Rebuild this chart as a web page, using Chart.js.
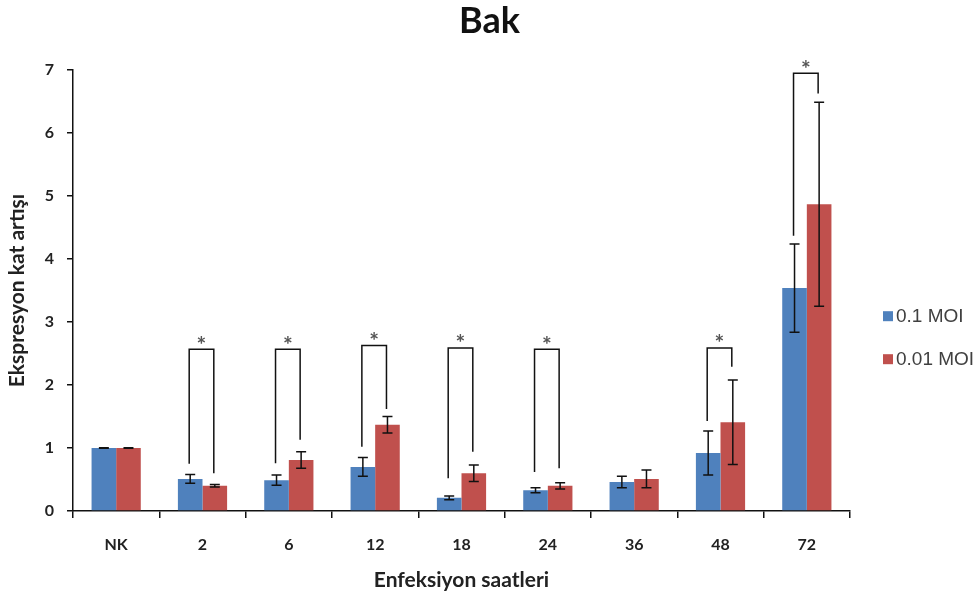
<!DOCTYPE html>
<html>
<head>
<meta charset="utf-8">
<script src="https://cdn.jsdelivr.net/npm/chart.js@4.4.1/dist/chart.umd.min.js"></script>
<style>
  html, body { margin: 0; padding: 0; background: #fff; }
  #wrap { width: 979px; height: 602px; }
</style>
</head>
<body>
<div id="wrap"><canvas id="bak-chart"></canvas></div>
<script>
const saatler = ['NK', '2', '6', '12', '18', '24', '36', '48', '72'];
const moi01 = [1.00, 0.51, 0.49, 0.70, 0.21, 0.33, 0.46, 0.92, 3.54];
const moi01Err = [0.005, 0.07, 0.08, 0.15, 0.03, 0.04, 0.09, 0.35, 0.70];
const moi001 = [1.00, 0.40, 0.81, 1.37, 0.60, 0.40, 0.51, 1.41, 4.87];
const moi001Err = [0.005, 0.02, 0.13, 0.13, 0.13, 0.05, 0.14, 0.67, 1.62];

// anlamlılık parantezleri: kategori, üst çizgi, sol ve sağ bacakların alt ucu
const sigIndex = [1, 2, 3, 4, 5, 7, 8];
const sigTop = [2.57, 2.57, 2.63, 2.59, 2.57, 2.59, 6.95];
const sigLeft = [0.75, 0.76, 1.02, 0.52, 0.62, 1.43, 4.37];
const sigRight = [0.60, 1.13, 1.62, 0.94, 0.68, 2.29, 6.63];

const FONT = 'Lato, "Open Sans", sans-serif';

const errorBars = {
  id: 'errorBars',
  afterDatasetsDraw(chart) {
    const ctx = chart.ctx;
    const y = chart.scales.y;
    const errs = [moi01Err, moi001Err];
    ctx.save();
    ctx.strokeStyle = '#111';
    ctx.lineWidth = 1.5;
    chart.data.datasets.forEach((ds, i) => {
      chart.getDatasetMeta(i).data.forEach((bar, j) => {
        const top = y.getPixelForValue(ds.data[j] + errs[i][j]);
        const bot = y.getPixelForValue(ds.data[j] - errs[i][j]);
        const x = bar.x, cap = 5;
        ctx.beginPath();
        ctx.moveTo(x, top); ctx.lineTo(x, bot);
        ctx.moveTo(x - cap, top); ctx.lineTo(x + cap, top);
        ctx.moveTo(x - cap, bot); ctx.lineTo(x + cap, bot);
        ctx.stroke();
      });
    });
    ctx.restore();
  }
};

const brackets = {
  id: 'brackets',
  afterDatasetsDraw(chart) {
    const ctx = chart.ctx;
    const y = chart.scales.y;
    const m0 = chart.getDatasetMeta(0).data;
    const m1 = chart.getDatasetMeta(1).data;
    ctx.save();
    ctx.strokeStyle = '#111';
    ctx.lineWidth = 1.5;
    sigIndex.forEach((k, n) => {
      const xl = m0[k].x - 1, xr = m1[k].x - 1;
      const yt = y.getPixelForValue(sigTop[n]);
      ctx.beginPath();
      ctx.moveTo(xl, y.getPixelForValue(sigLeft[n]));
      ctx.lineTo(xl, yt);
      ctx.lineTo(xr, yt);
      ctx.lineTo(xr, y.getPixelForValue(sigRight[n]));
      ctx.stroke();
      ctx.fillStyle = '#555';
      ctx.font = 'bold 23px ' + FONT;
      ctx.textAlign = 'center';
      ctx.textBaseline = 'middle';
      ctx.fillText('*', (xl + xr) / 2, yt - 4);
    });
    ctx.restore();
  }
};

const sideLegend = {
  id: 'sideLegend',
  afterDraw(chart) {
    const ctx = chart.ctx;
    const area = chart.chartArea;
    ctx.save();
    ctx.font = '19px "Liberation Sans", Arial, sans-serif';
    ctx.textBaseline = 'middle';
    ctx.textAlign = 'left';
    chart.data.datasets.forEach((ds, i) => {
      const cy = area.top + 246 + i * 43;
      ctx.fillStyle = ds.backgroundColor;
      ctx.fillRect(area.right + 33, cy - 5, 10, 10);
      ctx.fillStyle = '#404040';
      ctx.fillText(ds.label, area.right + 46, cy + 1);
    });
    ctx.restore();
  }
};

new Chart(document.getElementById('bak-chart'), {
  type: 'bar',
  data: {
    labels: saatler,
    datasets: [
      { label: '0.1 MOI', data: moi01, backgroundColor: '#4F81BD' },
      { label: '0.01 MOI', data: moi001, backgroundColor: '#C0504D' }
    ]
  },
  options: {
    responsive: true,
    maintainAspectRatio: false,
    animation: false,
    datasets: { bar: { categoryPercentage: 0.57, barPercentage: 1.0 } },
    layout: { padding: 0 },
    plugins: {
      legend: { display: false },
      tooltip: { enabled: false },
      title: {
        display: true,
        text: 'Bak',
        color: '#111',
        font: { family: FONT, size: 36, weight: 'bold' },
        padding: { top: 0, bottom: 27 }
      }
    },
    scales: {
      x: {
        grid: { display: true, drawOnChartArea: false, offset: true, tickLength: 7, color: '#111', lineWidth: 1.5 },
        border: { color: '#111', width: 1.5 },
        ticks: { color: '#222', padding: 17, font: { family: FONT, size: 16, weight: 'bold' } },
        title: { display: true, text: 'Enfeksiyon saatleri', color: '#222', padding: { top: 4, bottom: 9 }, font: { family: FONT, size: 21, weight: 'bold' } },
        afterFit(scale) { scale.height = 91; }
      },
      y: {
        min: 0,
        max: 7,
        grid: { display: true, drawOnChartArea: false, tickLength: 6, color: '#111', lineWidth: 1.5 },
        border: { color: '#111', width: 1.5 },
        ticks: { stepSize: 1, color: '#222', padding: 13, font: { family: FONT, size: 16, weight: 'bold' } },
        title: { display: true, text: 'Ekspresyon kat artışı', color: '#222', padding: { top: 5, bottom: 5 }, font: { family: FONT, size: 21, weight: 'bold' } },
        afterFit(scale) { scale.width = 73; }
      },
      // boş sağ eksen: lejant için yer ayırır
      side: {
        type: 'linear',
        position: 'right',
        grid: { display: false },
        border: { display: false },
        ticks: { display: false },
        afterFit(scale) { scale.width = 129; }
      }
    }
  },
  plugins: [errorBars, brackets, sideLegend]
});
</script>
</body>
</html>
